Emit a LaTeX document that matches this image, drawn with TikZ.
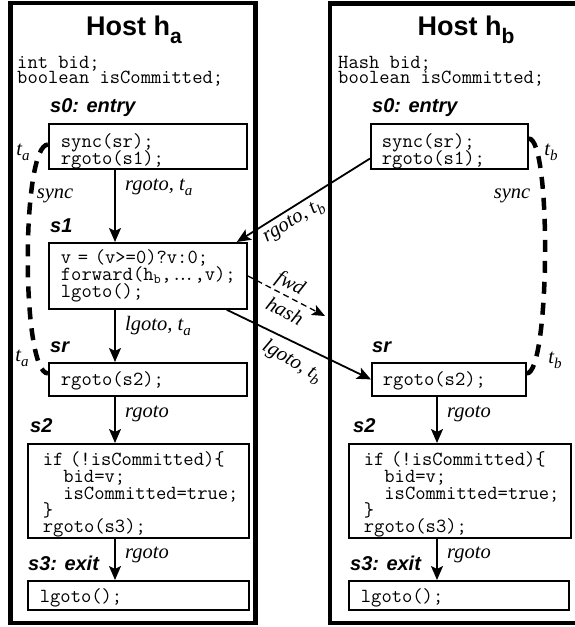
\documentclass[tikz,border=0pt]{standalone}
\usepackage{fontspec}
\setmainfont{Liberation Serif}
\newfontfamily\hsans{Liberation Sans}
\newcommand\hmono{\ttfamily}
\usetikzlibrary{arrows.meta,calc}
\newcommand\tst[1]{\rule{0pt}{#1pt}}
\newcommand\bst[1]{\rule[-#1pt]{0pt}{#1pt}}
\newcommand\sbi[1]{\raisebox{-5pt}{\fontsize{15}{15}\selectfont #1}}
\newcommand\mdots{.\kern-4pt.\kern-4pt.}
\newcommand\nolsk{\lineskiplimit -30pt\relax}
\hbadness=10000 \hfuzz=200pt
\hyphenpenalty=10000 \exhyphenpenalty=10000
\begin{document}
\begin{tikzpicture}[x=1pt,y=-1pt,
  host/.style={line width=4.5pt},
  codebox/.style={draw, line width=1.8pt, anchor=north west, align=left, inner xsep=12pt, inner ysep=0pt, font=\hmono\fontsize{20}{16.7}\selectfont\nolsk},
  hdr/.style={anchor=base west, inner sep=0pt, font=\hsans\bfseries\itshape\fontsize{20}{20}\selectfont},
  ttl/.style={anchor=base, inner sep=0pt, font=\hsans\bfseries\fontsize{27}{27}\selectfont},
  decl/.style={anchor=north west, inner sep=0pt, align=left, font=\hmono\fontsize{20}{15}\selectfont\nolsk},
  lab/.style={font=\itshape\fontsize{20.5}{20.5}\selectfont, inner sep=1pt},
  arr/.style={line width=1.8pt, -{Stealth[length=14pt,width=12pt,inset=3pt]}},
  syncline/.style={line width=4.5pt, dash pattern=on 12pt off 9pt},
  fwdline/.style={line width=1.3pt, dash pattern=on 6pt off 4pt, -{Stealth[length=13pt,width=11pt,inset=3pt]}},
]
\useasboundingbox (0,0) rectangle (574,627);
% hosts
\draw[host] (10.5,3) rectangle (255.5,623);
\draw[host] (330,3.5) rectangle (610,623);
\node[ttl] (ha) at (134,35) {Host h\raisebox{-8pt}{\fontsize{21}{21}\selectfont a}};
\node[ttl] (hb) at (466,35) {Host h\raisebox{-8pt}{\fontsize{21}{21}\selectfont b}};
\node[decl] (da) at (17,52) {\tst{16}int~bid;\\\mbox{boolean isCommitted;}};
\node[decl] (db) at (338,52) {\tst{16}Hash~bid;\\\mbox{boolean isCommitted;}};
% headers
\node[hdr] (l0a) at (50,112) {s0: entry};
\node[hdr] (l1a) at (50,232) {s1};
\node[hdr] (lra) at (50,352) {sr};
\node[hdr] (l2a) at (30,432) {s2};
\node[hdr] (l3a) at (28,570) {s3: exit};
\node[hdr] (l0b) at (372,112) {s0: entry};
\node[hdr] (lrb) at (372,352) {sr};
\node[hdr] (l2b) at (353,432) {s2};
\node[hdr] (l3b) at (350,570) {s3: exit};
% left boxes
\node[codebox, text width=174pt] (s0a) at (48,123) {\tst{24}sync(sr);\\rgoto(s1);\bst{4.3}};
\node[codebox, text width=174pt] (s1a) at (48,242) {\tst{21}\mbox{v = (v>=0)?v:0;}\\\mbox{forward(h\textsubscript{b},\mdots,v);}\\lgoto();\bst{11.6}};
\node[codebox, text width=174pt] (sra) at (48,362) {\tst{23}rgoto(s2);\bst{10}};
\node[codebox, inner xsep=15pt, text width=191pt] (s2a) at (27,443) {\tst{22}\mbox{if (!isCommitted)\{}\\\hspace*{20.5pt}\mbox{bid=v;}\\\hspace*{20.5pt}\mbox{isCommitted=true;}\\\}\\rgoto(s3);\bst{5.2}};
\node[codebox, text width=197pt] (s3a) at (27,580) {\tst{22}lgoto();\bst{7}};
% right boxes
\node[codebox, inner xsep=11pt, text width=135pt] (s0b) at (370,123) {\tst{24}sync(sr);\\rgoto(s1);\bst{4.3}};
\node[codebox, inner xsep=11pt, text width=132pt] (srb) at (371,362) {\tst{23}rgoto(s2);\bst{10}};
\node[codebox, inner xsep=15pt, text width=192pt] (s2b) at (348,443) {\tst{22}\mbox{if (!isCommitted)\{}\\\hspace*{20.5pt}\mbox{bid=v;}\\\hspace*{20.5pt}\mbox{isCommitted=true;}\\\}\\rgoto(s3);\bst{5.2}};
\node[codebox, text width=196pt] (s3b) at (348,580) {\tst{22}lgoto();\bst{7}};
% vertical arrows
\coordinate (ax) at (115,0);
\coordinate (bx) at (437,0);
\draw[arr] (s0a.south -| ax) -- (s1a.north -| ax);
\draw[arr] (s1a.south -| ax) -- (sra.north -| ax);
\draw[arr] (sra.south -| ax) -- (s2a.north -| ax);
\draw[arr] (s2a.south -| ax) -- (s3a.north -| ax);
\draw[arr] (srb.south -| bx) -- (s2b.north -| bx);
\draw[arr] (s2b.south -| bx) -- (s3b.north -| bx);
\node[lab, anchor=base west] (r1) at (124,190) {rgoto, t\sbi{a}};
\node[lab, anchor=base west] (r2) at (124,330) {lgoto, t\sbi{a}};
\node[lab, anchor=base west] (r3) at (124,417) {rgoto};
\node[lab, anchor=base west] (r4) at (124,558) {rgoto};
\node[lab, anchor=base west] (r5) at (446,417) {rgoto};
\node[lab, anchor=base west] (r6) at (446,558) {rgoto};
% cross arrows
\draw[arr] ([yshift=-12pt]s0b.west) -- ([xshift=-11pt]s1a.north east);
\node[lab, rotate=31] (lrb1) at (294,222) {rgoto, t\sbi{b}};
\draw[arr] ([xshift=-21pt]s1a.south east) -- (srb.west);
\node[lab, rotate=-30] (llb1) at (292,362) {lgoto, t\sbi{b}};
\coordinate (fh) at (325,316);
\draw[fwdline] (s1a.east) -- (fh);
\node[lab, rotate=-28] (fwd) at (290,284) {fwd};
\node[lab, rotate=-28] (hash) at (285,311) {hash};
% sync lines
\draw[syncline] ([yshift=2pt]s0a.west) .. controls +(-27,0) and +(-27,0) .. ([yshift=6pt]sra.west);
\draw[syncline] ([yshift=8pt]s0b.east) .. controls +(23,0) and +(23,0) .. ([yshift=6pt]srb.east);
\node[lab] (ta1) at (23,152) {t\sbi{a}};
\node[lab] (ta2) at (22,358) {t\sbi{a}};
\node[lab] (sya) at (55,196) {sync};
\node[lab] (tb1) at (551,152) {t\sbi{b}};
\node[lab] (tb2) at (555,360) {t\sbi{b}};
\node[lab] (syb) at (512,196) {sync};
\end{tikzpicture}
\end{document}
